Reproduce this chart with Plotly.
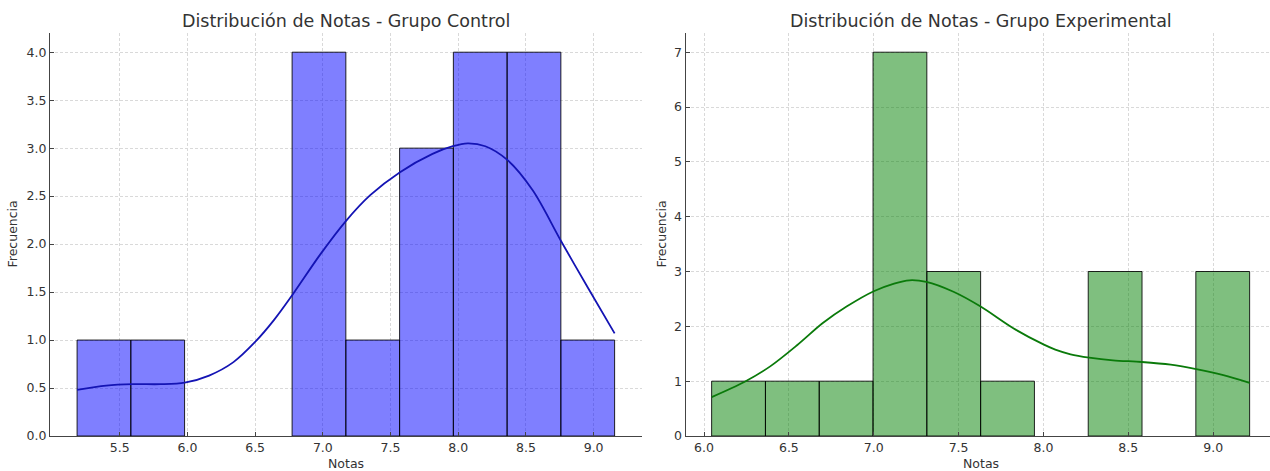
import plotly.graph_objects as go

# ---------------- data ----------------
# Grupo Control histogram
ctrl_edges = [5.185, 5.582, 5.979, 6.376, 6.773, 7.170, 7.567, 7.964, 8.361, 8.758, 9.155]
ctrl_counts = [1, 1, 0, 0, 4, 1, 3, 4, 4, 1]
# Grupo Control KDE curve
ctrl_kde_x = [5.185, 5.40, 5.60, 5.80, 5.98, 6.16, 6.34, 6.50, 6.64, 6.78, 6.98, 7.17,
              7.35, 7.57, 7.81, 7.96, 8.07, 8.20, 8.36, 8.55, 8.76, 8.96, 9.155]
ctrl_kde_y = [0.48, 0.525, 0.54, 0.54, 0.556, 0.63, 0.77, 0.98, 1.21, 1.48, 1.89, 2.24,
              2.51, 2.75, 2.94, 3.02, 3.05, 3.02, 2.88, 2.56, 2.03, 1.54, 1.07]

# Grupo Experimental histogram
exp_edges = [6.045, 6.362, 6.679, 6.996, 7.313, 7.630, 7.947, 8.264, 8.581, 8.898, 9.215]
exp_counts = [1, 1, 1, 7, 3, 1, 0, 3, 0, 3]
# Grupo Experimental KDE curve
exp_kde_x = [6.045, 6.24, 6.39, 6.55, 6.70, 6.84, 7.00, 7.12, 7.21, 7.31, 7.47, 7.63,
             7.82, 8.00, 8.07, 8.16, 8.27, 8.41, 8.58, 8.75, 8.90, 9.06, 9.215]
exp_kde_y = [0.71, 0.99, 1.27, 1.66, 2.06, 2.36, 2.64, 2.78, 2.84, 2.81, 2.63, 2.36,
             1.97, 1.67, 1.575, 1.49, 1.43, 1.38, 1.35, 1.30, 1.22, 1.11, 0.97]

ctrl_yticks = [0.0, 0.5, 1.0, 1.5, 2.0, 2.5, 3.0, 3.5, 4.0]
ctrl_xticks = [5.5, 6.0, 6.5, 7.0, 7.5, 8.0, 8.5, 9.0]
exp_yticks = [0, 1, 2, 3, 4, 5, 6, 7]
exp_xticks = [6.0, 6.5, 7.0, 7.5, 8.0, 8.5, 9.0]

title_ctrl = "Distribución de Notas - Grupo Control"
title_exp = "Distribución de Notas - Grupo Experimental"
xlabel = "Notas"
ylabel = "Frecuencia"

# ---------------- figure ----------------
FONT = "DejaVu Sans"
TXT = "#333333"


def bars(edges, counts, fill, xa, ya):
    xs, ys, ws = [], [], []
    for i, c in enumerate(counts):
        if c > 0:
            xs.append((edges[i] + edges[i + 1]) / 2)
            ws.append(edges[i + 1] - edges[i])
            ys.append(c)
    return go.Bar(x=xs, y=ys, width=ws, xaxis=xa, yaxis=ya,
                  marker=dict(color=fill, line=dict(color="rgba(0,0,0,0.85)", width=1)),
                  hoverinfo="x+y")


fig = go.Figure()
fig.add_trace(bars(ctrl_edges, ctrl_counts, "rgba(0,0,255,0.5)", "x", "y"))
fig.add_trace(go.Scatter(x=ctrl_kde_x, y=ctrl_kde_y, mode="lines", xaxis="x", yaxis="y",
                         line=dict(color="#1414b4", width=1.8, shape="spline", smoothing=0.9)))
fig.add_trace(bars(exp_edges, exp_counts, "rgba(0,128,0,0.5)", "x2", "y2"))
fig.add_trace(go.Scatter(x=exp_kde_x, y=exp_kde_y, mode="lines", xaxis="x2", yaxis="y2",
                         line=dict(color="#0a7a0a", width=1.8, shape="spline", smoothing=0.9)))

axis_common = dict(
    showline=True, linecolor="#444444", linewidth=1, mirror=False,
    ticks="inside", ticklen=4, tickwidth=1, tickcolor="#444444",
    showgrid=True, gridcolor="#d9d9d9", gridwidth=0.8, griddash="3px,2px",
    zeroline=False, tickfont=dict(family=FONT, size=12.5, color=TXT),
)

W, H = 1270, 471
ML, MR, MT, MB = 50, 0, 33, 35
pw = W - ML - MR
ph = H - MT - MB

fig.update_layout(
    width=W, height=H,
    margin=dict(l=ML, r=MR, t=MT, b=MB, pad=0),
    plot_bgcolor="white", paper_bgcolor="white",
    showlegend=False, barmode="overlay",
    font=dict(family=FONT, color=TXT),
    xaxis=dict(domain=[0, (641.7 - ML) / pw], range=[4.985, 9.355],
               tickvals=ctrl_xticks, ticktext=[f"{v:.1f}" for v in ctrl_xticks], **axis_common),
    yaxis=dict(domain=[0, 1], range=[0, 4.2], anchor="x",
               tickvals=ctrl_yticks, ticktext=[f"{v:.1f}" for v in ctrl_yticks], **axis_common),
    xaxis2=dict(domain=[(685.5 - ML) / pw, 1], range=[5.891, 9.335], anchor="y2",
                tickvals=exp_xticks, ticktext=[f"{v:.1f}" for v in exp_xticks], **axis_common),
    yaxis2=dict(domain=[0, 1], range=[0, 7.35], anchor="x2",
                tickvals=exp_yticks, ticktext=[str(v) for v in exp_yticks], **axis_common),
)


def py_to_paper(py):
    return (ph + MT - py) / ph


ann = [
    dict(text=title_ctrl, xref="x", x=7.17, yref="paper", y=py_to_paper(20.5),
         showarrow=False, xanchor="center", yanchor="middle",
         font=dict(family=FONT, size=17.5, color=TXT)),
    dict(text=title_exp, xref="x2", x=7.635, yref="paper", y=py_to_paper(20.5),
         showarrow=False, xanchor="center", yanchor="middle",
         font=dict(family=FONT, size=17.5, color=TXT)),
    dict(text=xlabel, xref="x", x=7.17, yref="paper", y=py_to_paper(463),
         showarrow=False, xanchor="center", yanchor="middle",
         font=dict(family=FONT, size=12.5, color=TXT)),
    dict(text=xlabel, xref="x2", x=7.635, yref="paper", y=py_to_paper(463),
         showarrow=False, xanchor="center", yanchor="middle",
         font=dict(family=FONT, size=12.5, color=TXT)),
    dict(text=ylabel, xref="paper", x=(12 - ML) / pw, yref="paper", y=0.5, textangle=-90,
         showarrow=False, xanchor="center", yanchor="middle",
         font=dict(family=FONT, size=12.5, color=TXT)),
    dict(text=ylabel, xref="paper", x=(661 - ML) / pw, yref="paper", y=0.5, textangle=-90,
         showarrow=False, xanchor="center", yanchor="middle",
         font=dict(family=FONT, size=12.5, color=TXT)),
]
fig.update_layout(annotations=ann)

fig.write_html("out.html")
